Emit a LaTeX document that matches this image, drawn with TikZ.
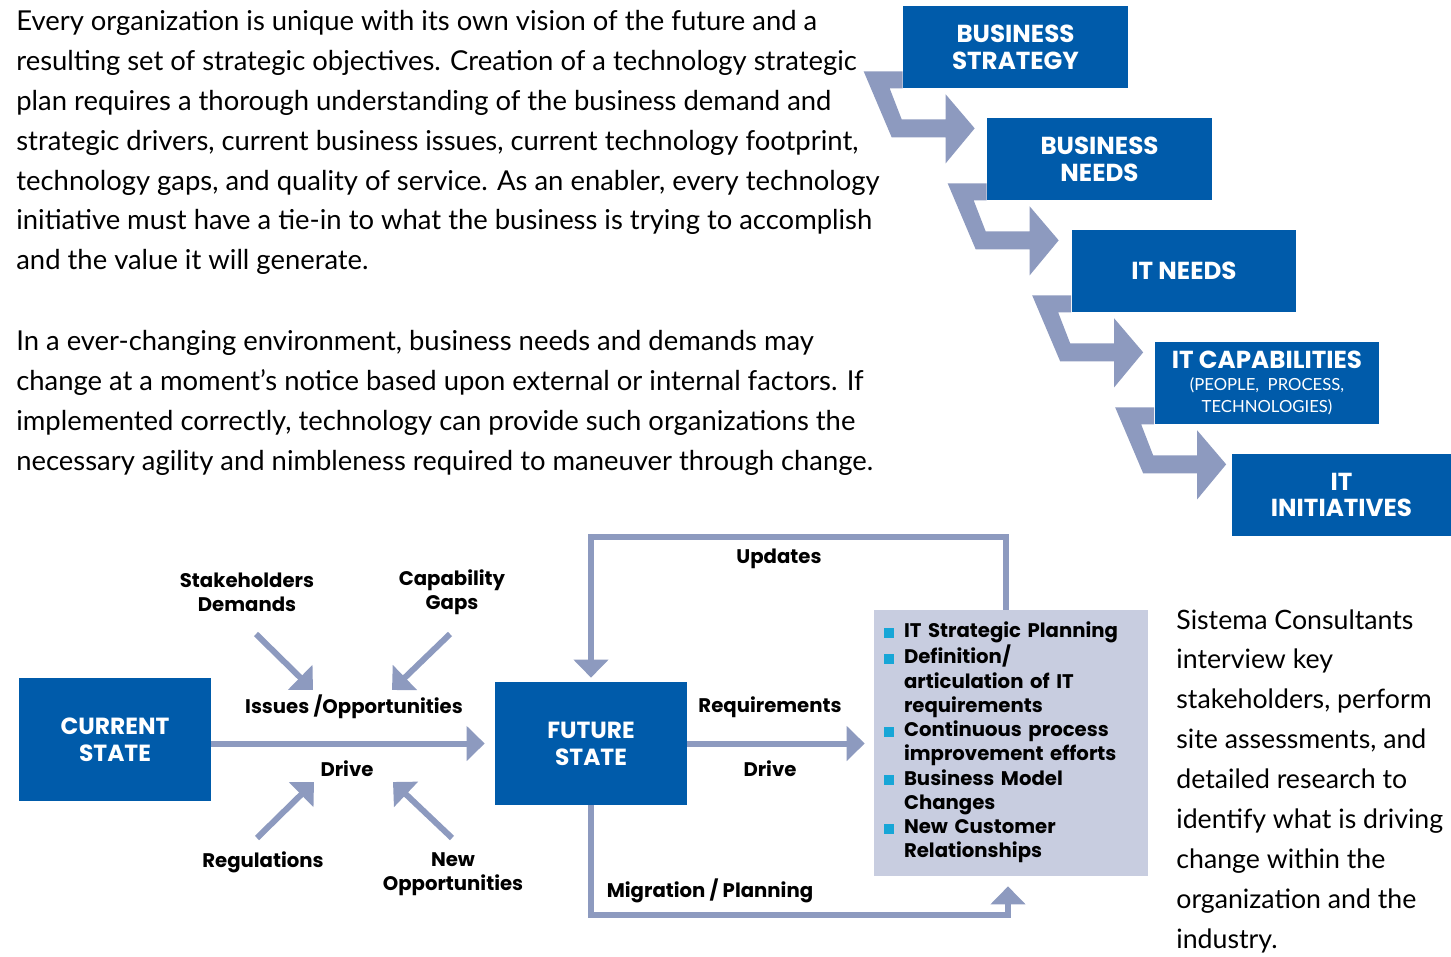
\documentclass[tikz,border=0pt]{standalone}
\usepackage{fontspec}
\setmainfont{Lato}
\newfontfamily\labelfont{Poppins}
\usetikzlibrary{arrows.meta,positioning}
\definecolor{stepblue}{RGB}{0,91,170}
\definecolor{flowgrey}{RGB}{141,154,191}
\definecolor{listfill}{RGB}{200,205,224}
\definecolor{bulletcyan}{RGB}{23,166,215}
\newcommand{\bulletsq}{\textcolor{bulletcyan}{\rule{0.2cm}{0.2cm}}}
\newcommand{\subcaps}{\normalfont\fontsize{9.5}{12.5}\selectfont}

\begin{document}
\begin{tikzpicture}[
  x=0.02cm, y=-0.02cm,
  para/.style={anchor=north west, inner sep=0pt, align=left, font=\fontsize{15.6}{22.7}\selectfont},
  stepbox/.style={rectangle, fill=stepblue, text=white, minimum width=4.5cm, minimum height=1.64cm, align=center, font=\labelfont\bfseries\fontsize{14}{15.3}\selectfont},
  statebox/.style={stepbox, minimum width=3.84cm, minimum height=2.46cm, font=\labelfont\bfseries\fontsize{13.3}{15.3}\selectfont},
  listbox/.style={rectangle, fill=listfill, text width=5.08cm, inner xsep=0.2cm, minimum height=5.32cm, align=left, font=\labelfont\bfseries\fontsize{11.2}{13.8}\selectfont},
  lbl/.style={align=center, inner sep=0pt, font=\labelfont\bfseries\fontsize{11.2}{13.8}\selectfont},
  flow/.style={draw=flowgrey, line width=0.12cm, -{Triangle[length=0.36cm,width=0.68cm]}},
  stepfill/.style={fill=flowgrey}
]
\useasboundingbox (0,0) rectangle (1451,957);

% text blocks
\node[para] (intro) at (16,10) {Every organization is unique with its own vision of the future and a\\
resulting set of strategic objectives. Creation of a technology strategic\\
plan requires a thorough understanding of the business demand and\\
strategic drivers, current business issues, current technology footprint,\\
technology gaps, and quality of service. As an enabler, every technology\\
initiative must have a tie-in to what the business is trying to accomplish\\
and the value it will generate.};
\node[para] (agility) at (16,330) {In a ever-changing environment, business needs and demands may\\
change at a moment’s notice based upon external or internal factors. If\\
implemented correctly, technology can provide such organizations the\\
necessary agility and nimbleness required to maneuver through change.};
\node[para, font=\fontsize{15.2}{22.7}\selectfont] (sistema) at (1176,609) {Sistema Consultants\\
interview key\\
stakeholders, perform\\
site assessments, and\\
detailed research to\\
identify what is driving\\
change within the\\
organization and the\\
industry.};

% staircase
\node[stepbox] (bstrat) at (1015.5,47) {BUSINESS\\STRATEGY};
\node[stepbox] (bneeds) at (1099.5,159) {BUSINESS\\NEEDS};
\node[stepbox] (itneeds) at (1184,271) {IT NEEDS};
\node[stepbox, font=\labelfont\bfseries\fontsize{14}{12.5}\selectfont] (itcap) at (1267,383)
  {IT CAPABILITIES\\\subcaps (PEOPLE,\ \ PROCESS,\\\subcaps TECHNOLOGIES)};
\node[stepbox, minimum width=4.38cm] (itinit) at (1341.5,495) {IT\\INITIATIVES};

\foreach \b in {bstrat,bneeds,itneeds,itcap}
  \fill[stepfill, shift={(\b.south west)}] (-39,-17) -- (0,-17) -- (0,0) -- (-13,0) -- (-1,31)
    -- (43,31) -- (43,6) -- (72,40) -- (43,75) -- (43,49) -- (-11,49) -- cycle;

% current / future state
\node[statebox] (cur) at (115,739.5) {CURRENT\\STATE};
\node[statebox] (fut) at (591,743.5) {FUTURE\\STATE};
\node[listbox] (goals) at (1011,743) {\begin{tabular}{@{}l@{\hspace{0.2cm}}l@{}}
\bulletsq & IT Strategic Planning\\
\bulletsq & Definition/\\
 & articulation of IT\\
 & requirements\\
\bulletsq & Continuous process\\
 & improvement efforts\\
\bulletsq & Business Model\\
 & Changes\\
\bulletsq & New Customer\\
 & Relationships
\end{tabular}};

\node[lbl] (stake) at (247,592) {Stakeholders\\Demands};
\node[lbl] (gaps) at (452,592) {Capability\\Gaps};
\node[lbl] (issues) at (354,707) {Issues /Opportunities};
\node[lbl] (drive1) at (347,769) {Drive};
\node[lbl] (regs) at (263,862) {Regulations};
\node[lbl] (newopp) at (453,874) {New\\Opportunities};
\node[lbl] (reqs) at (770,707) {Requirements};
\node[lbl] (drive2) at (770,769) {Drive};
\node[lbl] (updates) at (779,559) {Updates};
\node[lbl] (migr) at (710,891) {Migration / Planning};

\coordinate (stake-tail) at (256,634);
\coordinate (stake-tip) at (313,690);
\coordinate (gaps-tail) at (450,634);
\coordinate (gaps-tip) at (392,690);
\coordinate (regs-tail) at (257,838);
\coordinate (regs-tip) at (314,782);
\coordinate (newopp-tail) at (452,838);
\coordinate (newopp-tip) at (393,782);

% arrows
\draw[flow] (stake-tail) -- (stake-tip);
\draw[flow] (gaps-tail) -- (gaps-tip);
\draw[flow] (regs-tail) -- (regs-tip);
\draw[flow] (newopp-tail) -- (newopp-tip);
\draw[flow, shorten >=0.2cm] (cur.east |- fut.west) -- (fut.west);
\draw[flow, shorten >=0.18cm] (fut.east) -- (goals.west |- fut.east);
\draw[flow, shorten >=0.08cm] ([xshift=-0.1cm]goals.north) -- ++(0,-73) -| (fut.north);
\draw[flow, shorten >=0.2cm] (fut.south) -- ++(0,110) -| ([xshift=-0.06cm]goals.south);
\end{tikzpicture}
\end{document}
